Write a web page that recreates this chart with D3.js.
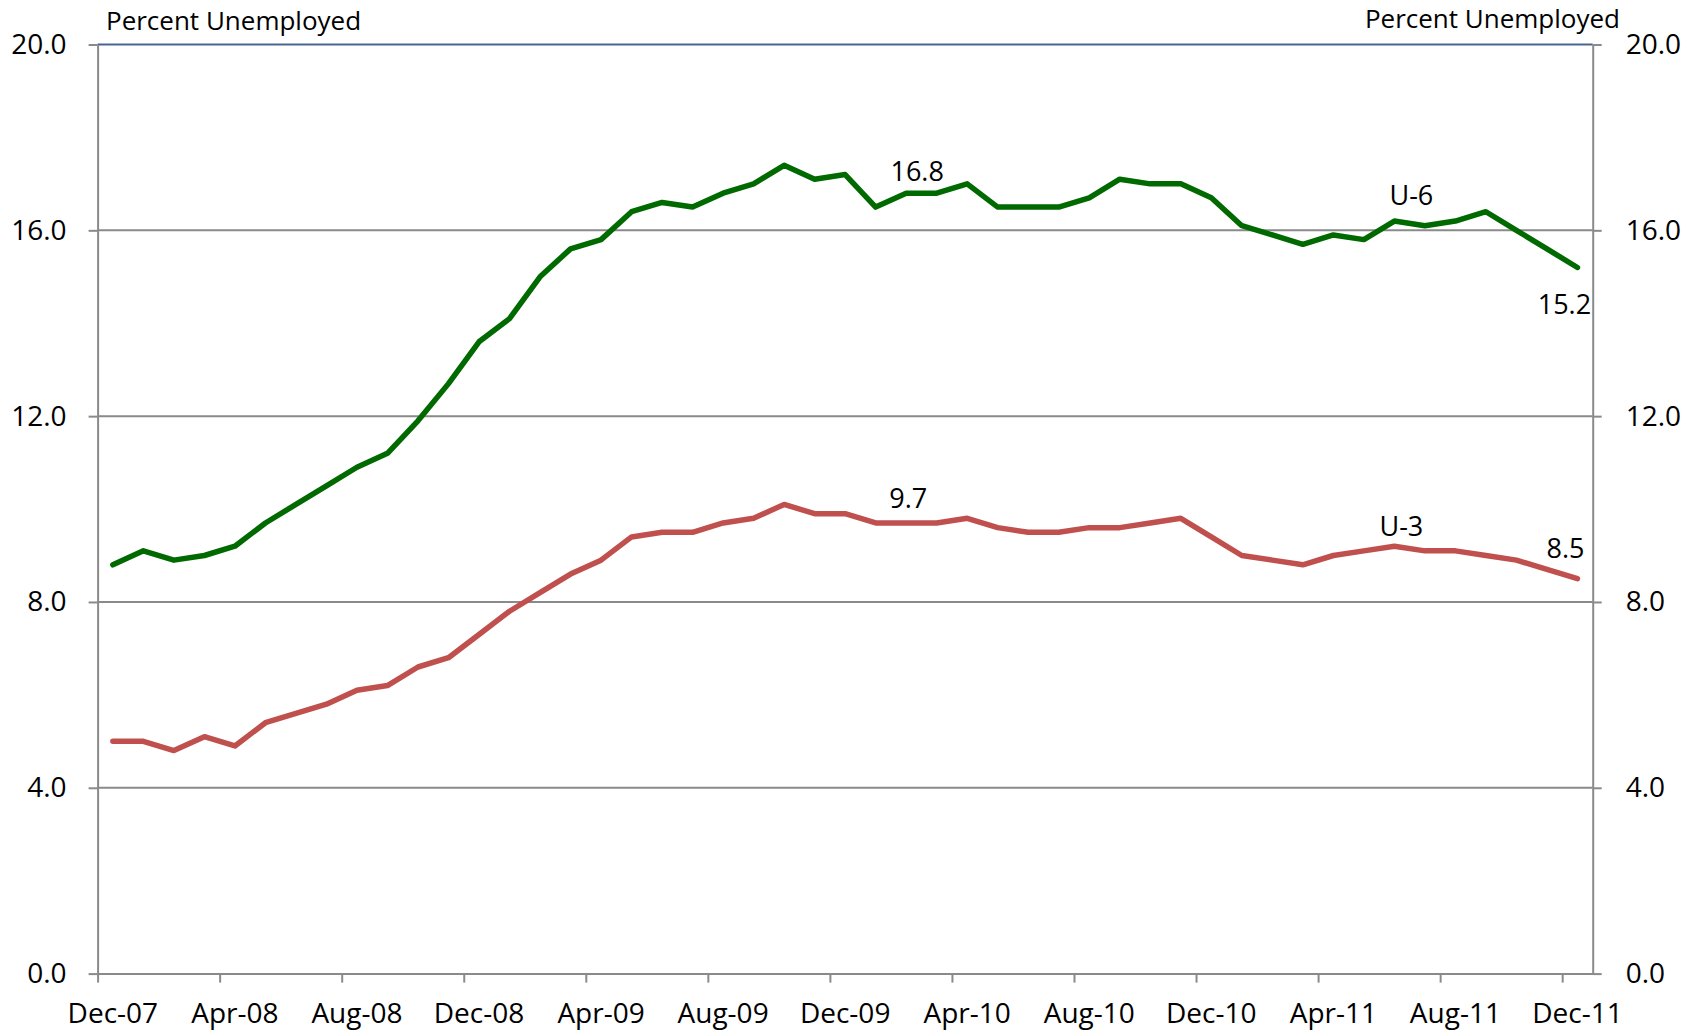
<!DOCTYPE html>
<html>
<head>
<meta charset="utf-8">
<script src="https://cdn.jsdelivr.net/npm/d3@7/dist/d3.min.js"></script>
<style>
  body { margin: 0; background: #fff; }
  text { font-family: "Open Sans", sans-serif; fill: #000; }
</style>
</head>
<body>
<div class="graph"></div>
<script>
// monthly categories, Dec-07 .. Dec-11
var months = [
  "Dec-07",
  "Jan-08", "Feb-08", "Mar-08", "Apr-08", "May-08", "Jun-08", "Jul-08", "Aug-08", "Sep-08", "Oct-08", "Nov-08", "Dec-08",
  "Jan-09", "Feb-09", "Mar-09", "Apr-09", "May-09", "Jun-09", "Jul-09", "Aug-09", "Sep-09", "Oct-09", "Nov-09", "Dec-09",
  "Jan-10", "Feb-10", "Mar-10", "Apr-10", "May-10", "Jun-10", "Jul-10", "Aug-10", "Sep-10", "Oct-10", "Nov-10", "Dec-10",
  "Jan-11", "Feb-11", "Mar-11", "Apr-11", "May-11", "Jun-11", "Jul-11", "Aug-11", "Sep-11", "Oct-11", "Nov-11", "Dec-11"
];

var tickLabels = ["Dec-07", "Apr-08", "Aug-08", "Dec-08", "Apr-09", "Aug-09", "Dec-09",
  "Apr-10", "Aug-10", "Dec-10", "Apr-11", "Aug-11", "Dec-11"];

var u6 = [
  8.8,
  9.1, 8.9, 9.0, 9.2, 9.7, 10.1, 10.5, 10.9, 11.2, 11.9, 12.7, 13.6,
  14.1, 15.0, 15.6, 15.8, 16.4, 16.6, 16.5, 16.8, 17.0, 17.4, 17.1, 17.2,
  16.5, 16.8, 16.8, 17.0, 16.5, 16.5, 16.5, 16.7, 17.1, 17.0, 17.0, 16.7,
  16.1, 15.9, 15.7, 15.9, 15.8, 16.2, 16.1, 16.2, 16.4, 16.0, 15.6, 15.2
];

var u3 = [
  5.0,
  5.0, 4.8, 5.1, 4.9, 5.4, 5.6, 5.8, 6.1, 6.2, 6.6, 6.8, 7.3,
  7.8, 8.2, 8.6, 8.9, 9.4, 9.5, 9.5, 9.7, 9.8, 10.1, 9.9, 9.9,
  9.7, 9.7, 9.7, 9.8, 9.6, 9.5, 9.5, 9.6, 9.6, 9.7, 9.8, 9.4,
  9.0, 8.9, 8.8, 9.0, 9.1, 9.2, 9.1, 9.1, 9.0, 8.9, 8.7, 8.5
];

var yTicks = [0, 4, 8, 12, 16, 20];

window.onload = () => {
  var width = 1700, height = 1033;
  var left = 97.6, right = 1592.7, top = 44.5, bottom = 973.6;

  var svg = d3.select(".graph").append("svg")
    .attr("width", width)
    .attr("height", height);

  // category boundaries: idx i spans [i, i+1]
  var x = d3.scaleLinear().domain([0, months.length]).range([left, right]);
  var y = d3.scaleLinear().domain([0, 20]).range([bottom, top]);
  var cx = function (i) { return x(i + 0.5); };

  // gridlines
  svg.append("g")
    .selectAll("line")
    .data(yTicks.filter(function (d) { return d > 0 && d < 20; }))
    .enter().append("line")
    .attr("x1", left).attr("x2", right)
    .attr("y1", function (d) { return y(d); })
    .attr("y2", function (d) { return y(d); })
    .attr("stroke", "#8a8a8a")
    .attr("stroke-width", 2);

  // top border
  svg.append("line")
    .attr("x1", left).attr("x2", right)
    .attr("y1", y(20)).attr("y2", y(20))
    .attr("stroke", "#4a6590")
    .attr("stroke-width", 2);

  // left axis
  var yLeft = svg.append("g")
    .attr("transform", "translate(" + left + ",0)")
    .call(d3.axisLeft(y).tickValues(yTicks).tickSize(9).tickSizeOuter(0).tickPadding(22)
      .tickFormat(d3.format(".1f")));

  // right axis
  var yRight = svg.append("g")
    .attr("transform", "translate(" + right + ",0)")
    .call(d3.axisRight(y).tickValues(yTicks).tickSize(9).tickSizeOuter(0).tickPadding(24)
      .tickFormat(d3.format(".1f")));

  [yLeft, yRight].forEach(function (g) {
    g.select(".domain").attr("stroke", "#8a8a8a").attr("stroke-width", 2);
    g.selectAll(".tick line").attr("stroke", "#8a8a8a").attr("stroke-width", 2);
    g.selectAll(".tick text")
      .style("font-family", "'Open Sans', sans-serif")
      .style("font-size", "28px")
      .attr("fill", "#000");
  });

  // bottom axis: ticks on category boundaries every 4 months
  var xAxis = svg.append("g")
    .attr("transform", "translate(0," + bottom + ")")
    .call(d3.axisBottom(x).tickValues(d3.range(0, months.length, 4)).tickSize(9).tickSizeOuter(0)
      .tickFormat(""));
  xAxis.select(".domain").attr("stroke", "#8a8a8a").attr("stroke-width", 2);
  xAxis.selectAll(".tick line").attr("stroke", "#8a8a8a").attr("stroke-width", 2);

  // month labels centred on their category
  svg.append("g")
    .selectAll("text")
    .data(tickLabels)
    .enter().append("text")
    .attr("x", function (d) { return cx(months.indexOf(d)); })
    .attr("y", 1023)
    .attr("text-anchor", "middle")
    .style("font-size", "28px")
    .text(function (d) { return d; });

  // axis titles
  svg.append("text")
    .attr("x", 106).attr("y", 30)
    .style("font-size", "26px")
    .text("Percent Unemployed");
  svg.append("text")
    .attr("x", 1620).attr("y", 28)
    .attr("text-anchor", "end")
    .style("font-size", "26px")
    .text("Percent Unemployed");

  // lines
  var line = d3.line()
    .x(function (d, i) { return cx(i); })
    .y(function (d) { return y(d); });

  svg.append("path")
    .datum(u6)
    .attr("d", line)
    .attr("fill", "none")
    .attr("stroke", "#006a00")
    .attr("stroke-width", 5.5)
    .attr("stroke-linejoin", "round")
    .attr("stroke-linecap", "round");

  svg.append("path")
    .datum(u3)
    .attr("d", line)
    .attr("fill", "none")
    .attr("stroke", "#c0504d")
    .attr("stroke-width", 5.5)
    .attr("stroke-linejoin", "round")
    .attr("stroke-linecap", "round");

  // data labels, anchored on a data point
  var notes = [
    { s: u6, i: 26, text: "16.8", dx: 11, dy: -12 },
    { s: u3, i: 26, text: "9.7", dx: 2, dy: -15 },
    { s: u6, i: 42, text: "U-6", dx: 17, dy: -16 },
    { s: u3, i: 42, text: "U-3", dx: 7, dy: -10 },
    { s: u6, i: 48, text: "15.2", dx: -13, dy: 47 },
    { s: u3, i: 48, text: "8.5", dx: -12, dy: -21 }
  ];

  svg.append("g")
    .selectAll("text")
    .data(notes)
    .enter().append("text")
    .attr("x", function (d) { return cx(d.i) + d.dx; })
    .attr("y", function (d) { return y(d.s[d.i]) + d.dy; })
    .attr("text-anchor", "middle")
    .style("font-size", "27px")
    .text(function (d) { return d.text; });
};
</script>
</body>
</html>
